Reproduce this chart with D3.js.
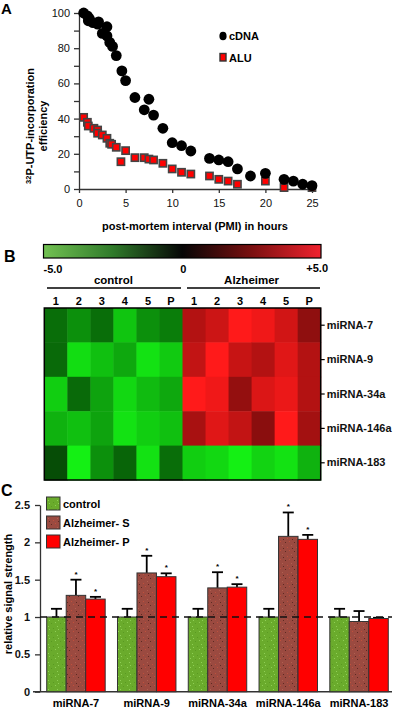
<!DOCTYPE html>
<html><head><meta charset="utf-8">
<script src="https://cdn.jsdelivr.net/npm/d3@7"></script>
<style>body{margin:0;background:#fff} svg{display:block} text{font-family:"Liberation Sans",Arial,sans-serif}</style>
</head><body>
<svg id="c" width="396" height="708"></svg>
<script>
// ---------- Panel A data ----------
const cdnaX = [0.5,0.9,1.1,1.0,1.5,2.0,2.1,3.0,2.5,3.0,3.3,3.6,4.0,4.6,5.0,6.0,7.5,7.0,8.0,9.0,10.0,11.0,12.0,14.0,15.0,16.0,17.0,18.4,20.0,22.0,23.0,24.0,25.0];
const cdnaY = [100,98.4,97,95.6,94.5,93.7,95,92.2,88.4,87,83.3,81,75.8,67.1,61.6,52,51,45,42,34.5,26.3,24.6,21.6,17.4,16.5,15.5,11.4,7.4,8.9,5.5,4.5,2.7,1.9];
const aluX = [0.5,0.9,1.0,1.6,2.0,2.0,2.5,3.0,3.3,3.5,4.0,5.0,4.5,6.0,7.0,7.5,8.0,9.0,10.0,11.0,12.0,14.0,15.0,16.0,17.0,20.0,22.0,25.0];
const aluY = [40.7,37.9,35.8,34.5,33.5,31.7,30.7,28.8,26,25.4,23.7,21.8,15.5,17.8,17.8,17,16.5,14.6,11.4,9.5,8.5,7.4,5.5,4.5,2.7,4.5,0.8,0.8];
const aTicksY = [0,10,20,30,40,50,60,70,80,90,100];
const aTicksX = [0,5,10,15,20,25];

// ---------- Panel B data ----------
const heatCols = ["1","2","3","4","5","P","1","2","3","4","5","P"];
const heatRows = ["miRNA-7","miRNA-9","miRNA-34a","miRNA-146a","miRNA-183"];
const heatVals = [
  [-2.3,-3.0,-2.3,-4.1,-3.0,-2.6, 3.5,4.0,5.0,4.7,4.1,2.8],
  [-2.2,-4.6,-4.0,-3.5,-4.7,-4.2, 3.8,5.0,3.9,3.5,4.4,3.5],
  [-4.3,-2.2,-3.4,-4.5,-3.9,-3.5, 5.0,4.7,2.9,4.3,4.6,3.5],
  [-3.7,-4.0,-3.4,-4.7,-4.3,-4.0, 3.3,4.4,3.8,2.7,5.0,3.2],
  [-1.6,-5.0,-3.0,-2.1,-4.7,-2.3,-4.3,-4.5,-5.0,-4.4,-4.7,-3.7]
];
const colorbarLabels = ["-5.0","0","+5.0"];

// ---------- Panel C data ----------
const cCats = ["miRNA-7","miRNA-9","miRNA-34a","miRNA-146a","miRNA-183"];
const ctrlVal = [1,1,1,1,1];
const ctrlErr = [0.11,0.11,0.11,0.11,0.11];
const sVal = [1.29,1.59,1.39,2.08,0.94];
const sErr = [0.21,0.23,0.21,0.32,0.14];
const pVal = [1.24,1.54,1.40,2.04,0.98];
const pErr = [0.03,0.045,0.04,0.06,0.01];
const sSig = [true,true,true,true,false];
const pSig = [true,true,true,true,false];
const cTicks = [0,0.5,1,1.5,2,2.5];
const seriesNames = ["control","Alzheimer- S","Alzheimer- P"];

const svg = d3.select("#c");
const defs = svg.append("defs");
function speckle(id, base, dots){
  const p = defs.append("pattern").attr("id",id).attr("patternUnits","userSpaceOnUse").attr("width",9).attr("height",9);
  p.append("rect").attr("width",9).attr("height",9).attr("fill",base);
  [[1,1],[6,2],[3,5],[8,7],[4,8]].forEach(([x,y],i)=>p.append("rect").attr("x",x).attr("y",y).attr("width",1).attr("height",1).attr("fill",dots[i%dots.length]));
}
speckle("pCtrl","#6aab2c",["#8fcf55","#5a9a22"]);
speckle("pS","#9b4a40",["#c0503c","#5e2a22","#b06050"]);
const fills = ["url(#pCtrl)","url(#pS)","#ff0000"];

// ================= Panel A =================
const ax = d3.scaleLinear().domain([0,25]).range([79,312]);
const ay = d3.scaleLinear().domain([0,100]).range([189,13]);
svg.append("text").attr("x",1).attr("y",14).attr("font-size",15).attr("font-weight","bold").text("A");
const gAy = svg.append("g").attr("transform","translate(79,0)")
  .call(d3.axisLeft(ay).tickValues(aTicksY).tickSize(5).tickSizeOuter(0).tickFormat(d=>d%20===0?d:""));
const gAx = svg.append("g").attr("transform","translate(0,189)")
  .call(d3.axisBottom(ax).tickValues(aTicksX).tickSize(4).tickSizeOuter(0));
[gAy,gAx].forEach(g=>{g.selectAll("path,line").attr("stroke","#333").attr("stroke-width",1.3);
  g.selectAll("text").attr("font-size",11).attr("fill","#111").attr("font-family","Liberation Sans, Arial, sans-serif");});
gAx.selectAll("text").attr("dy","1em");
gAy.selectAll("text").attr("dx","-1px");

svg.append("g").selectAll("rect").data(aluX).join("rect")
  .attr("x",(d,i)=>ax(d)-3.6).attr("y",(d,i)=>ay(aluY[i])-3.6).attr("width",7.2).attr("height",7.2)
  .attr("fill","#ff0000").attr("stroke","#444").attr("stroke-width",1.6);
svg.append("g").selectAll("circle").data(cdnaX).join("circle")
  .attr("cx",d=>ax(d)).attr("cy",(d,i)=>ay(cdnaY[i])).attr("r",5.4).attr("fill","#000");

// legend
svg.append("ellipse").attr("cx",223).attr("cy",36).attr("rx",3.6).attr("ry",4.3).attr("fill","#000");
svg.append("text").attr("x",229).attr("y",40).attr("font-size",11).attr("font-weight","bold").text("cDNA");
svg.append("rect").attr("x",220).attr("y",53.5).attr("width",6).attr("height",7.5).attr("fill","#ff0000").attr("stroke","#333").attr("stroke-width",1.4);
svg.append("text").attr("x",229).attr("y",62).attr("font-size",11).attr("font-weight","bold").text("ALU");

svg.append("text").attr("x",195).attr("y",230).attr("text-anchor","middle").attr("font-size",11).attr("font-weight","bold")
  .text("post-mortem interval (PMI) in hours");
const yl = svg.append("text").attr("transform","translate(34,126) rotate(-90)").attr("text-anchor","middle").attr("font-size",11).attr("font-weight","bold");
yl.append("tspan").attr("font-size",7.5).attr("dy","-3").text("32");
yl.append("tspan").attr("dy","3").text("P-UTP-incorporation");
svg.append("text").attr("transform","translate(47,126) rotate(-90)").attr("text-anchor","middle").attr("font-size",11).attr("font-weight","bold").text("efficiency");

// ================= Panel B =================
svg.append("text").attr("x",4).attr("y",262).attr("font-size",16).attr("font-weight","bold").text("B");
const cb = d3.scaleLinear().domain([-5,5]).range([43.5,321]);
const grad = defs.append("linearGradient").attr("id","cbg").attr("x1","0%").attr("x2","100%");
[["0%","#72c152"],["25%","#2f7a2a"],["50%","#060606"],["75%","#7a1010"],["100%","#f0222e"]].forEach(([o,c])=>grad.append("stop").attr("offset",o).attr("stop-color",c));
svg.append("rect").attr("x",cb(-5)).attr("y",244.5).attr("width",cb(5)-cb(-5)).attr("height",13.5).attr("fill","url(#cbg)").attr("stroke","#000").attr("stroke-width",1.2);
svg.append("text").attr("x",cb(-5)).attr("y",273).attr("font-size",11).attr("font-weight","bold").text(colorbarLabels[0]);
svg.append("text").attr("x",cb(0)+1).attr("y",273).attr("text-anchor","middle").attr("font-size",11).attr("font-weight","bold").text(colorbarLabels[1]);
svg.append("text").attr("x",cb(5)+7).attr("y",272).attr("text-anchor","end").attr("font-size",11).attr("font-weight","bold").text(colorbarLabels[2]);

const hx = d3.scaleBand().domain(d3.range(heatCols.length)).range([44.3,320.7]);
const hy = d3.scaleBand().domain(heatRows).range([308,480]);
const heatColor = d3.scaleLinear().domain([-5,0,5]).range(["#14f014","#000000","#ff1a1a"]);
svg.append("text").attr("x",(hx(0)+hx(5)+hx.bandwidth())/2).attr("y",284).attr("text-anchor","middle").attr("font-size",11.5).attr("font-weight","bold").text("control");
svg.append("text").attr("x",(hx(6)+hx(11)+hx.bandwidth())/2).attr("y",284).attr("text-anchor","middle").attr("font-size",11.5).attr("font-weight","bold").text("Alzheimer");
svg.append("line").attr("x1",47).attr("x2",181).attr("y1",288).attr("y2",288).attr("stroke","#000").attr("stroke-width",1.3);
svg.append("line").attr("x1",187).attr("x2",320).attr("y1",288).attr("y2",288).attr("stroke","#000").attr("stroke-width",1.3);
svg.append("g").selectAll("text").data(heatCols).join("text")
  .attr("x",(d,i)=>hx(i)+hx.bandwidth()/2).attr("y",305).attr("text-anchor","middle").attr("font-size",11).attr("font-weight","bold").text(d=>d);
const cells = [];
heatVals.forEach((row,r)=>row.forEach((v,c)=>cells.push({r:heatRows[r],c,v})));
svg.append("g").selectAll("rect").data(cells).join("rect")
  .attr("x",d=>hx(d.c)).attr("y",d=>hy(d.r)).attr("width",hx.bandwidth()+0.5).attr("height",hy.bandwidth()+0.5)
  .attr("fill",d=>heatColor(d.v));
svg.append("rect").attr("x",44.3).attr("y",308).attr("width",276.4).attr("height",172).attr("fill","none").attr("stroke","#000").attr("stroke-width",1.5);
const gHy = svg.append("g").attr("transform","translate(320.7,0)").call(d3.axisRight(hy).tickSize(4).tickSizeOuter(0));
gHy.select(".domain").remove();
gHy.selectAll("line").attr("stroke","#000").attr("stroke-width",1.2);
gHy.selectAll("text").attr("font-size",11).attr("font-weight","bold").attr("fill","#111").attr("x",6).attr("font-family","Liberation Sans, Arial, sans-serif");

// ================= Panel C =================
svg.append("text").attr("x",1).attr("y",496).attr("font-size",16).attr("font-weight","bold").text("C");
const cy = d3.scaleLinear().domain([0,2.5]).range([691.7,505]);
const cx = d3.scaleBand().domain(cCats).range([40,395]).paddingInner(0.174).paddingOuter(0.095);
const sub = d3.scaleBand().domain([0,1,2]).range([0,cx.bandwidth()]);
const gCy = svg.append("g").attr("transform","translate(40,0)")
  .call(d3.axisLeft(cy).tickValues(cTicks).tickSize(5).tickSizeOuter(0).tickFormat(d3.format("~g")));
gCy.selectAll("path,line").attr("stroke","#333").attr("stroke-width",1.3);
gCy.selectAll("text").attr("font-size",11).attr("font-weight","bold").attr("fill","#111").attr("dx","-2px").attr("font-family","Liberation Sans, Arial, sans-serif");
svg.append("line").attr("x1",33).attr("x2",392).attr("y1",cy(0)).attr("y2",cy(0)).attr("stroke","#333").attr("stroke-width",1.5);

const vals = [ctrlVal,sVal,pVal], errs = [ctrlErr,sErr,pErr];
const bars = [];
cCats.forEach((c,i)=>[0,1,2].forEach(s=>bars.push({c,i,s,v:vals[s][i],e:errs[s][i]})));
const gb = svg.append("g");
// error bars (behind bars for stems going up)
gb.selectAll("line.stem").data(bars).join("line").attr("class","stem")
  .attr("x1",d=>cx(d.c)+sub(d.s)+sub.bandwidth()/2).attr("x2",d=>cx(d.c)+sub(d.s)+sub.bandwidth()/2)
  .attr("y1",d=>cy(d.v)).attr("y2",d=>cy(d.v+d.e)).attr("stroke","#000").attr("stroke-width",1.8);
gb.selectAll("line.cap").data(bars).join("line").attr("class","cap")
  .attr("x1",d=>cx(d.c)+sub(d.s)+sub.bandwidth()/2-5.5).attr("x2",d=>cx(d.c)+sub(d.s)+sub.bandwidth()/2+5.5)
  .attr("y1",d=>cy(d.v+d.e)).attr("y2",d=>cy(d.v+d.e)).attr("stroke","#000").attr("stroke-width",1.8);
gb.selectAll("rect").data(bars).join("rect")
  .attr("x",d=>cx(d.c)+sub(d.s)).attr("y",d=>cy(d.v)).attr("width",sub.bandwidth()).attr("height",d=>cy(0)-cy(d.v))
  .attr("fill",d=>fills[d.s]).attr("stroke","#333").attr("stroke-width",1);
// asterisks
const stars = bars.filter(d=>(d.s===1&&sSig[d.i])||(d.s===2&&pSig[d.i]));
gb.selectAll("text").data(stars).join("text")
  .attr("x",d=>cx(d.c)+sub(d.s)+sub.bandwidth()/2).attr("y",d=>cy(d.v+d.e)-3)
  .attr("text-anchor","middle").attr("font-size",8).attr("font-weight","bold").text("*");
// dashed reference line at 1
svg.append("line").attr("x1",40).attr("x2",392).attr("y1",cy(1)).attr("y2",cy(1))
  .attr("stroke","#111").attr("stroke-width",1.4).attr("stroke-dasharray","7,5");

// x labels
svg.append("g").selectAll("text").data(cCats).join("text")
  .attr("x",d=>cx(d)+cx.bandwidth()/2).attr("y",707).attr("text-anchor","middle").attr("font-size",11).attr("font-weight","bold").text(d=>d);
// y label
svg.append("text").attr("transform","translate(12,594) rotate(-90)").attr("text-anchor","middle").attr("font-size",11).attr("font-weight","bold").text("relative signal strength");
// legend
seriesNames.forEach((n,i)=>{
  const y0 = 497 + i*19;
  svg.append("rect").attr("x",46.5).attr("y",y0).attr("width",13.5).attr("height",13).attr("fill",fills[i]).attr("stroke","#333").attr("stroke-width",1);
  svg.append("text").attr("x",63).attr("y",y0+10.5).attr("font-size",11).attr("font-weight","bold").text(n);
});
</script>
</body></html>
